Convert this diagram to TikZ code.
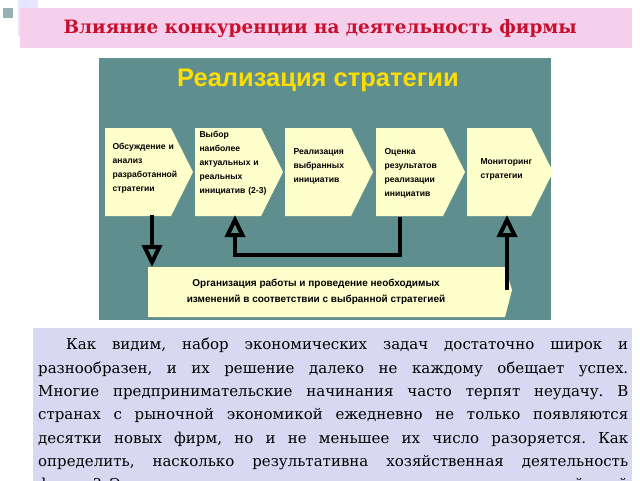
\documentclass[tikz,border=0pt]{standalone}
\usepackage{fontspec}
\setmainfont{DejaVu Serif}
\newfontfamily\diagfont{Liberation Sans}
\usetikzlibrary{arrows.meta}
\definecolor{panel}{HTML}{5E8E8D}
\definecolor{paper}{HTML}{FFFFCC}
\definecolor{titlepink}{HTML}{F5D0EC}
\definecolor{titlered}{HTML}{C8102E}
\definecolor{textbg}{HTML}{D8D8F2}
\newcommand{\stepshape}[3]{% left x, width, name
  \fill[paper] (#1,128) -- ++(#2-22,0) -- (#1+#2,172) -- (#1+#2-22,216) -- (#1,216) -- cycle;
  \coordinate (#3) at (#1,128);}
\tikzset{
  steptext/.style={font=\diagfont\bfseries\fontsize{8.6}{14}\selectfont, align=left, text width=80pt, anchor=north west},
  flow/.style={line width=4pt, -{Triangle[open, width=20pt, length=22pt, line width=4pt, fill=panel]}},
}
\begin{document}
\begin{tikzpicture}[x=1pt, y=-1pt]
  \useasboundingbox (0,0) rectangle (640,480);
  \begin{scope}
  \clip (0,0) rectangle (640,480);
  % decoration and title
  \fill[blue!10] (18,0) rectangle (38,36);
  \fill[gray!60!teal!60] (3,8) rectangle (13,18);
  \node[fill=titlepink, minimum width=612pt, minimum height=40pt, anchor=north west] (title) at (20,8) {};
  \node[text=titlered, font=\bfseries\fontsize{18.4}{20}\selectfont] at ([xshift=-6pt]title.center) {Влияние конкуренции на деятельность фирмы};
  % picture
  \node[fill=panel, minimum width=452pt, minimum height=262pt, anchor=north west, inner sep=0pt] (panel) at (99,58) {};
  \node[text=yellow!80!orange, font=\diagfont\bfseries\fontsize{25.5}{27}\selectfont] (head) at (318,80) {Реализация стратегии};
  \stepshape{105}{88}{s1}
  \stepshape{195}{88}{s2}
  \stepshape{285}{88}{s3}
  \stepshape{376}{89}{s4}
  \stepshape{467}{86}{s5}
  \node[steptext] at ([shift={(4,12)}]s1) {Обсуждение и\\анализ\\разработанной\\стратегии};
  \node[steptext] at ([shift={(1,0)}]s2) {Выбор\\наиболее\\актуальных и\\реальных\\инициатив (2-3)};
  \node[steptext] at ([shift={(5,17)}]s3) {Реализация\\выбранных\\инициатив};
  \node[steptext] at ([shift={(5,17)}]s4) {Оценка\\результатов\\реализации\\инициатив};
  \node[steptext] at ([shift={(10,27)}]s5) {Мониторинг\\стратегии};
  \fill[paper] (148,267) -- (505,267) -- (512,290) -- (505,317) -- (148,317) -- cycle;
  \node[font=\diagfont\bfseries\fontsize{10}{16}\selectfont, align=center] (org) at (316,292)
    {Организация работы и проведение необходимых\\изменений в соответствии с выбранной стратегией};
  \coordinate (c1) at (152,215);
  \coordinate (c2) at (400,217);
  \coordinate (c3) at (507,290);
  \draw[flow] (c1) -- (152,267);
  \draw[flow] (c2) -- (400,255) -- (235,255) -- (235,215);
  \draw[flow] (c3) -- (507,215);
  % text
  \node[fill=textbg, minimum width=599pt, minimum height=160pt, anchor=north west, inner sep=0pt] (txt) at (33,328) {};
  \node[anchor=north west, text width=590pt, align=justify, inner sep=0pt,
    font=\frenchspacing\fontsize{15}{23.3}\selectfont] at (38,338)
    {\hspace*{28pt}Как видим, набор экономических задач достаточно широк и\linebreak
    разнообразен, и их решение далеко не каждому обещает успех.\linebreak
    Многие предпринимательские начинания часто терпят неудачу. В\linebreak
    странах с рыночной экономикой ежедневно не только появляются\linebreak
    десятки новых фирм, но и не меньшее их число разоряется. Как\linebreak
    определить, насколько результативна хозяйственная деятельность\linebreak
    фирмы? Экономическая наука различает множество показателей этой\linebreak
    деятельности.};
  \end{scope}
\end{tikzpicture}
\end{document}
